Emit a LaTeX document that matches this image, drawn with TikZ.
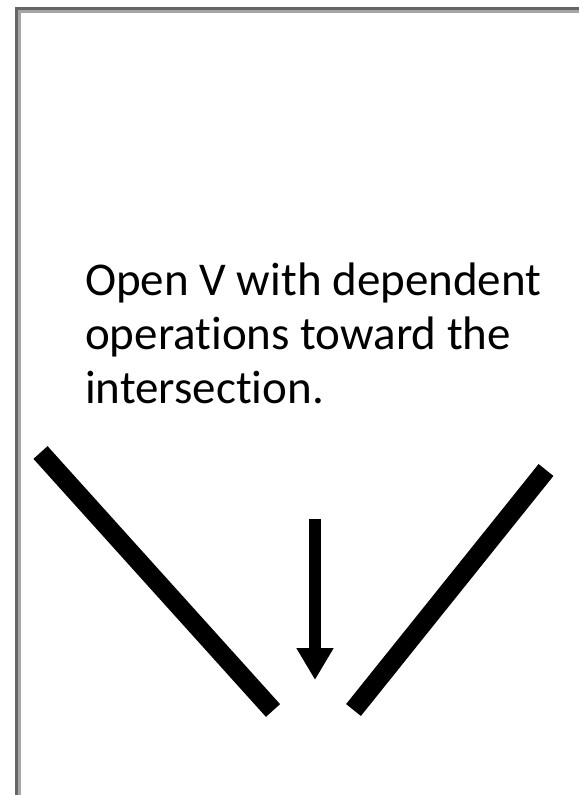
\documentclass[tikz,border=0pt]{standalone}
\usepackage{fontspec}
\setmainfont{Carlito}[Ligatures={NoCommon}]
\usetikzlibrary{arrows.meta}
\begin{document}
\begin{tikzpicture}[x=1pt,y=-1pt,
  framedark/.style={draw=black!60,line width=3.3pt},
  framelight/.style={draw=black!35,line width=2.7pt},
  bar/.style={line width=19pt,black},
  label/.style={anchor=base west,inner sep=0pt,font=\fontsize{47}{54}\selectfont}]
\useasboundingbox (0,0) rectangle (579,795);
\fill[white] (0,0) rectangle (579,795);
% frame
\coordinate (fl1) at (19.6,11.3);
\coordinate (fl2) at (19.6,795);
\coordinate (fl3) at (579,11.3);
\draw[framelight] (fl2) -- (fl1) -- (fl3);
\coordinate (fd1) at (16.6,8.3);
\coordinate (fd2) at (16.6,795);
\coordinate (fd3) at (579,8.3);
\draw[framedark] (fd2) -- (fd1) -- (fd3);
% text
\node[label] (txt1) at (85,295) {Open V with dependent};
\node[label] (txt2) at (85,349) {operations toward the};
\node[label] (txt3) at (85,403) {intersection.};
% V bars
\coordinate (l1) at (40.5,452.5);
\coordinate (l2) at (273,710.5);
\coordinate (r1) at (546,470);
\coordinate (r2) at (353.5,710);
\draw[bar] (l1) -- (l2);
\draw[bar] (r1) -- (r2);
% arrow
\coordinate (a1) at (315,519);
\coordinate (a2) at (315,680);
\draw[line width=11.5pt,-{Triangle[length=32pt,width=35pt]}] (a1) -- (a2);
\end{tikzpicture}
\end{document}
